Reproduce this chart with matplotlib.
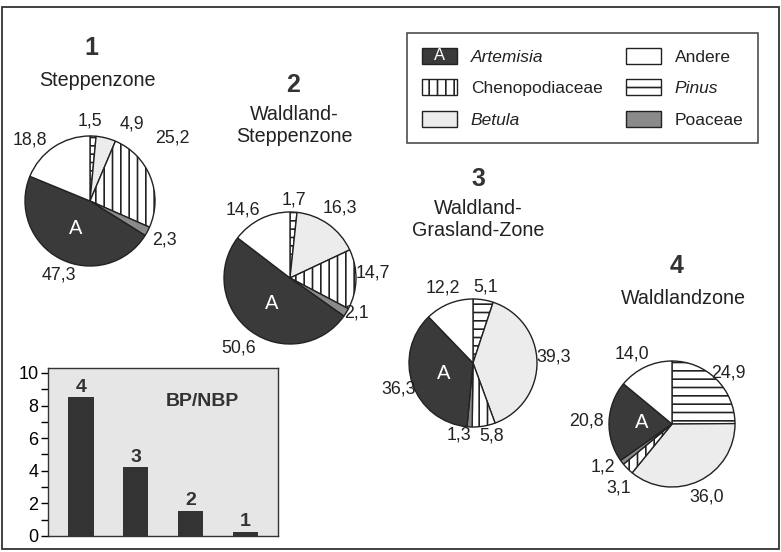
import matplotlib
matplotlib.use("Agg")
import numpy as np
import matplotlib.pyplot as plt
from matplotlib.patches import Patch, Rectangle
from matplotlib.legend_handler import HandlerPatch
from matplotlib.text import Text

plt.rcParams['font.family'] = ['Liberation Sans', 'DejaVu Sans']
plt.rcParams['hatch.linewidth'] = 1.2
plt.rcParams['text.color'] = '#222222'

# pollen groups, clockwise from 12 o'clock
taxa = ["Pinus", "Betula", "Chenopodiaceae", "Poaceae", "Artemisia", "Andere"]

zone_numbers = ["1", "2", "3", "4"]
zone_names = ["Steppenzone", "Waldland-\nSteppenzone", "Waldland-\nGrasland-Zone", "Waldlandzone"]

steppe = [1.5, 4.9, 25.2, 2.3, 47.3, 18.8]
forest_steppe = [1.7, 16.3, 14.7, 2.1, 50.6, 14.6]
forest_grass = [5.1, 39.3, 5.8, 1.3, 36.3, 12.2]
forest = [24.9, 36.0, 3.1, 1.2, 20.8, 14.0]
zone_values = [steppe, forest_steppe, forest_grass, forest]

# BP/NBP ratio, bars labelled by zone
ratio_zones = ["4", "3", "2", "1"]
ratio_values = [8.5, 4.2, 1.55, 0.25]

colors = {"Pinus": "white", "Betula": "#ececec", "Chenopodiaceae": "white",
          "Poaceae": "#8a8a8a", "Artemisia": "#3a3a3a", "Andere": "white"}
hatches = {"Pinus": "--", "Betula": "", "Chenopodiaceae": "||",
           "Poaceae": "", "Artemisia": "", "Andere": ""}

W, H = 781, 552
fig = plt.figure(figsize=(W / 100, H / 100), dpi=100)


def fx(px):
    return px / W


def fy(py):
    return 1 - py / H


# outer frame
fig.add_artist(Rectangle((fx(2), fy(549)), fx(777), (549 - 7) / H, transform=fig.transFigure,
                         fill=False, edgecolor='#333333', linewidth=1.3))

# pie geometry in pixels: centre x, centre y, radius
pie_geom = [(90, 201, 65), (290, 278, 66), (473, 363, 64), (672, 424, 63)]
# title positions: number x, number y, name x, name y (centre)
title_pos = [(91, 48, 97, 80), (293, 85, 294, 125), (478, 179, 478, 220),
             (677, 266, 683, 298)]
# hand nudges of value labels (pixels, right / down), as in the printed figure
nudge = [
    {"Pinus": (-4, -3), "Betula": (22, 0), "Chenopodiaceae": (0, -30),
     "Artemisia": (7, 0), "Andere": (-13, 10)},
    {"Poaceae": (-6, -9), "Andere": (-10, 8), "Chenopodiaceae": (-6, -7)},
    {"Poaceae": (-10, -4), "Chenopodiaceae": (6, -3), "Artemisia": (8, -3),
     "Betula": (-6, -5)},
    {"Poaceae": (-4, -7), "Chenopodiaceae": (4, 6), "Pinus": (-3, 9), "Andere": (-6, 3)},
]

LABEL_FS = 12.8
em = LABEL_FS * 100 / 72

for k, (vals, (cx, cy, r), (nx, ny, sx, sy), num, name) in enumerate(
        zip(zone_values, pie_geom, title_pos, zone_numbers, zone_names)):
    ax = fig.add_axes([fx(cx - 1.25 * r), fy(cy + 1.25 * r), 2.5 * r / W, 2.5 * r / H])
    wedges, _ = ax.pie(vals, startangle=90, counterclock=False,
                       colors=[colors[t] for t in taxa],
                       hatch=[hatches[t] for t in taxa],
                       wedgeprops=dict(edgecolor='#222222', linewidth=1.0))
    ax.set_xlim(-1.25, 1.25)
    ax.set_ylim(-1.25, 1.25)
    for w, v, t in zip(wedges, vals, taxa):
        mid = np.deg2rad((w.theta1 + w.theta2) / 2)
        ux, uy = np.cos(mid), np.sin(mid)
        lab = f"{v:.1f}".replace(".", ",")
        hw = (0.556 * (len(lab) - 1) + 0.278) * em / 2
        hh = 0.36 * em
        d = (r + 5 + abs(ux) * hw + abs(uy) * hh) / r
        dx, dy = nudge[k].get(t, (0, 0))
        ax.text(d * ux + dx / r, d * uy - dy / r, lab, fontsize=LABEL_FS,
                ha='center', va='center')
        if t == "Artemisia":
            ax.text(0.48 * ux, 0.48 * uy, "A", color='white', fontsize=14.5,
                    ha='center', va='center')
    fig.text(fx(nx), fy(ny), num, fontsize=18, fontweight='bold', color='#333333',
             ha='center', va='center')
    fig.text(fx(sx), fy(sy), name, fontsize=14.2, ha='center', va='center',
             linespacing=1.2)

# BP/NBP inset
bax = fig.add_axes([fx(48), fy(536), (278 - 48) / W, (536 - 368) / H])
bax.set_facecolor('#e6e6e6')
xs = range(len(ratio_values))
bax.bar(xs, ratio_values, width=0.46, color='#333333')
for x, v, lab in zip(xs, ratio_values, ratio_zones):
    bax.text(x, v + 0.1, lab, ha='center', va='bottom', fontsize=14, fontweight='bold',
             color='#333333')
bax.text(0.67, 0.8, "BP/NBP", transform=bax.transAxes, ha='center', va='center',
         fontsize=14, fontweight='bold', color='#333333')
bax.set_xlim(-0.6, 3.59)
bax.set_ylim(0, 10.3)
bax.set_xticks([])
bax.set_yticks(range(0, 11, 2))
bax.set_yticks(range(1, 11, 2), minor=True)
bax.tick_params(axis='y', labelsize=13, length=5, width=1, pad=2)
bax.tick_params(axis='y', which='minor', length=5, width=1)
for s in bax.spines.values():
    s.set_linewidth(1.0)
    s.set_color('#333333')


class HandlerA(HandlerPatch):
    def create_artists(self, legend, orig_handle, xdescent, ydescent, width, height,
                       fontsize, trans):
        p = Rectangle((-xdescent, -ydescent), width, height)
        self.update_prop(p, orig_handle, legend)
        p.set_transform(trans)
        t = Text(-xdescent + width / 2, -ydescent + height / 2, "A", color='white',
                 ha='center', va='center', fontsize=fontsize * 0.95)
        t.set_transform(trans)
        return [p, t]


legend_order = ["Artemisia", "Chenopodiaceae", "Betula", "Andere", "Pinus", "Poaceae"]
handles = [Patch(facecolor=colors[t], hatch=hatches[t], edgecolor='#222222', linewidth=1.0)
           for t in legend_order]
leg = fig.legend(handles, legend_order, loc='upper left', bbox_to_anchor=(fx(407), fy(33)),
                 borderaxespad=0, ncol=2, fontsize=12.5, frameon=True, fancybox=False,
                 edgecolor='#222222', handlelength=2.02, handleheight=1.04,
                 labelspacing=0.85, handletextpad=0.8, columnspacing=1.35, borderpad=0.85,
                 handler_map={handles[0]: HandlerA()})
leg.get_frame().set_linewidth(1.2)
for txt in leg.get_texts():
    if txt.get_text() in ("Artemisia", "Betula", "Pinus"):
        txt.set_fontstyle('italic')

fig.savefig("out.png", dpi=100, facecolor='white')
